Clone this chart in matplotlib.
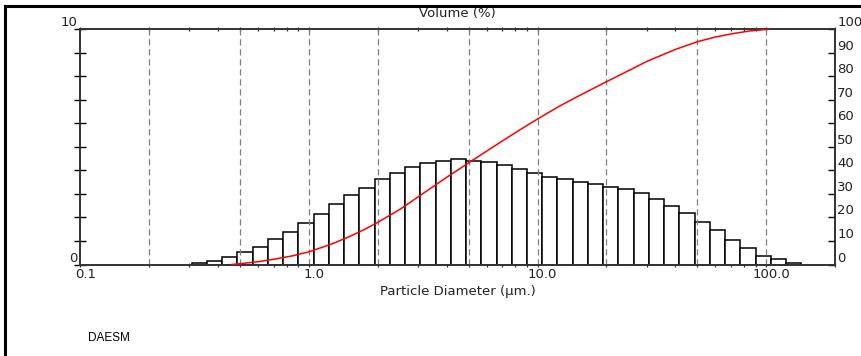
"""Particle size distribution: volume histogram + cumulative curve."""

import matplotlib
matplotlib.use('Agg')
import matplotlib.pyplot as plt
import matplotlib.transforms as mtransforms
from matplotlib.lines import Line2D
import numpy as np

plt.rcParams['font.family'] = 'DejaVu Sans'

# bin edges (um), 40 log-spaced classes
bin_edges = [0.307, 0.358, 0.417, 0.486, 0.567, 0.661, 0.771, 0.899, 1.048, 1.222,
             1.425, 1.661, 1.937, 2.258, 2.633, 3.070, 3.579, 4.173, 4.865, 5.673,
             6.614, 7.711, 8.991, 10.48, 12.22, 14.25, 16.61, 19.37, 22.58, 26.33,
             30.70, 35.79, 41.73, 48.65, 56.73, 66.14, 77.11, 89.91, 104.8, 122.2,
             142.5]
# volume in each class (%)
volume = [0.08, 0.16, 0.33, 0.53, 0.76, 1.08, 1.39, 1.78, 2.13, 2.57,
          2.94, 3.26, 3.63, 3.90, 4.15, 4.32, 4.41, 4.47, 4.41, 4.35,
          4.21, 4.04, 3.89, 3.73, 3.62, 3.52, 3.41, 3.30, 3.19, 3.05,
          2.77, 2.50, 2.20, 1.82, 1.45, 1.04, 0.69, 0.37, 0.22, 0.05]

# cumulative curve (undersize %)
cum_diam = [0.46, 0.5, 0.6, 0.7, 0.85, 1.0, 1.25, 1.5, 1.75, 2.0, 2.5, 3.0, 4.0,
            5.0, 6.0, 7.0, 8.5, 10, 12.5, 15, 20, 25, 30, 40, 50, 60, 70, 85,
            100, 103]
cum_pct = [0, 0.35, 1.2, 2.2, 3.7, 5.4, 8.6, 11.8, 14.9, 17.9, 23.4, 28.7, 37.0,
           43.2, 48.2, 52.4, 57.6, 61.8, 67.3, 71.4, 77.6, 82.3, 86.2, 91.3, 94.6,
           96.6, 97.9, 99.2, 99.8, 99.9]

grid_x = [0.2, 0.5, 1, 2, 5, 10, 20, 50, 100]
xticks = [0.1, 1, 10, 100]
xticklabels = ['0.1', '1.0', '10.0', '100.0']
left_ticks = list(range(11))
left_labels = ['0'] + [''] * 9 + ['10']
right_ticks = list(range(0, 101, 10))

fig = plt.figure(figsize=(8.61, 3.56), dpi=100)
ax = fig.add_axes([0.0933, 0.257, 0.8765, 0.6615])
ax.set_xscale('log')
ax.set_xlim(0.1, 200)
ax.set_ylim(0, 10)

txt = '#222222'
spine_c = '#333333'

ax.bar(bin_edges[:-1], volume, width=np.diff(bin_edges), align='edge',
       facecolor='white', edgecolor='black', linewidth=1.1, zorder=2)

for gx in grid_x:
    ax.axvline(gx, color='#808080', linestyle=(0, (5, 3)), linewidth=0.9, zorder=3)

for s in ax.spines.values():
    s.set_color(spine_c)
    s.set_linewidth(1.2)

ax.set_xticks(xticks)
ax.set_xticklabels(xticklabels)
ax.tick_params(axis='x', which='both', direction='inout', length=3.5, width=0.9,
               color=spine_c, top=True, labelsize=9.5, labelcolor=txt, pad=1)
for lab in ax.get_xticklabels():
    lab.set_transform(lab.get_transform() +
                      mtransforms.ScaledTranslation(0.05, 0, fig.dpi_scale_trans))

ax.set_yticks(left_ticks)
ax.set_yticklabels(left_labels)
ax.tick_params(axis='y', direction='inout', length=8.6, width=1.0, color='black',
               labelsize=9.5, labelcolor=txt, pad=-2)
for lab in ax.get_yticklabels():
    lab.set_verticalalignment('bottom')

ax.set_xlabel('Particle Diameter (µm.)', fontsize=9.5, color=txt, labelpad=3)
ax.set_title('Volume (%)', fontsize=9.5, color=txt, y=1.0, pad=9)

ax2 = ax.twinx()
ax2.set_ylim(0, 100)
ax2.plot(cum_diam, cum_pct, color='#ff0000', linewidth=1.1, zorder=4,
         solid_joinstyle='round')
ax2.set_yticks(right_ticks)
ax2.tick_params(axis='y', direction='in', length=5, width=1.0, color='black',
                labelsize=9.5, labelcolor=txt, pad=1.5)
for lab in ax2.get_yticklabels():
    lab.set_verticalalignment('bottom')
for s in ax2.spines.values():
    s.set_color(spine_c)
    s.set_linewidth(1.2)

fig.text(88 / 861, 1 - 338 / 356, 'DAESM', family='Liberation Sans',
         fontsize=8.5, color='black', va='center', ha='left')

# outer frame (top and left edges visible)
fig.add_artist(Line2D([5 / 861, 1], [1 - 6 / 356] * 2, transform=fig.transFigure,
                      color='black', linewidth=2.2, zorder=10))
fig.add_artist(Line2D([5 / 861] * 2, [0, 1 - 6 / 356], transform=fig.transFigure,
                      color='black', linewidth=2.2, zorder=10))

fig.savefig('out.png', dpi=100)
